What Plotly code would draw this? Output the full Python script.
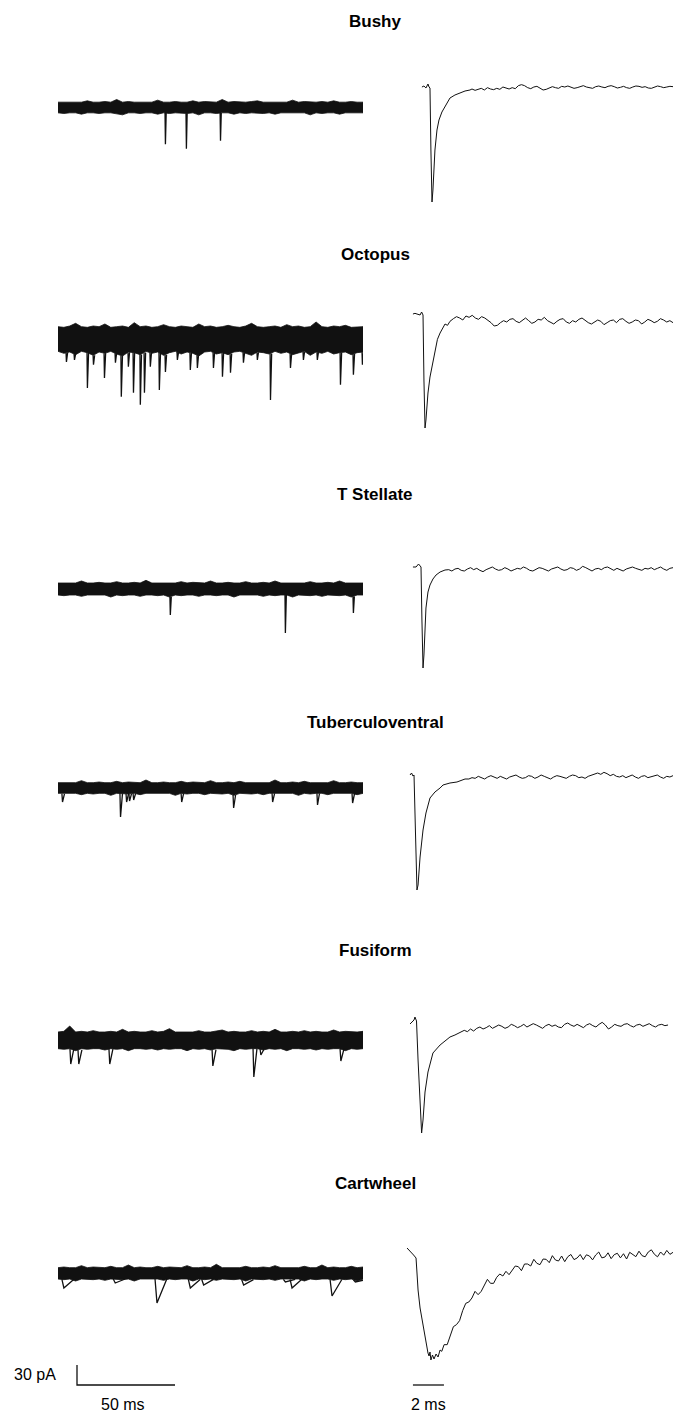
import numpy as np
import plotly.graph_objects as go

# ---------------------------------------------------------------------------
# Data: six cochlear-nucleus cell types.
# Left column: continuous 155.6 ms sweep (noise envelope + spontaneous events).
# Right column: averaged spontaneous EPSC (ms, pA).
# ---------------------------------------------------------------------------
CELLS = ["Bushy", "Octopus", "T Stellate", "Tuberculoventral", "Fusiform", "Cartwheel"]
SWEEP_MS = 155.6
AVG_END_MS = 16.97

# --- noise envelopes of the sweeps (pA, evenly spaced across the sweep) ---
BUSHY_TOP = [8, 8, 9, 8, 8, 10, 8, 8, 9, 8, 12, 8, 9, 8, 8, 9, 8, 11, 8, 8, 9, 8, 8, 10, 8, 9, 8,
             8, 12, 8, 9, 8, 8, 9, 10, 8, 8, 9, 8, 8, 11, 8, 9, 8, 8, 9, 8, 10, 8, 8, 9, 8, 8]
BUSHY_BOT = [-8, -9, -8, -8, -10, -8, -8, -9, -8, -8, -9, -11, -8, -8, -9, -8, -8, -10, -8, -9, -8,
             -8, -9, -8, -11, -8, -8, -9, -8, -8, -10, -8, -9, -8, -8, -9, -8, -10, -8, -8, -9, -8,
             -8, -11, -8, -9, -8, -8, -10, -8, -9, -8, -8]
OCTOPUS_TOP = [17, 16, 18, 22, 17, 16, 18, 17, 21, 16, 17, 18, 16, 23, 17, 18, 16, 17, 20, 17, 16,
               18, 17, 16, 21, 17, 18, 16, 17, 19, 17, 16, 18, 22, 17, 16, 17, 18, 16, 20, 17, 18,
               16, 17, 24, 17, 16, 18, 17, 19, 16, 17, 17]
OCTOPUS_BOT = [-20, -23, -21, -25, -20, -22, -26, -21, -23, -20, -24, -27, -21, -22, -25, -20, -23,
               -21, -26, -22, -20, -24, -21, -23, -27, -21, -20, -24, -22, -25, -21, -20, -23, -26,
               -21, -22, -24, -20, -23, -21, -25, -22, -20, -26, -21, -23, -20, -24, -22, -21, -25,
               -22, -21]
TSTELLATE_TOP = [9, 9, 10, 9, 12, 9, 9, 10, 9, 9, 11, 9, 9, 10, 9, 13, 9, 9, 10, 9, 9, 11, 9, 10, 9,
                 9, 12, 9, 9, 10, 9, 9, 11, 9, 9, 10, 9, 12, 9, 9, 10, 9, 9, 11, 9, 9, 10, 9, 12, 9,
                 9, 10, 9]
TSTELLATE_BOT = [-9, -10, -9, -9, -11, -9, -10, -9, -9, -12, -9, -10, -9, -9, -11, -9, -9, -10, -9,
                 -12, -9, -10, -9, -9, -11, -9, -9, -10, -9, -9, -12, -9, -10, -9, -9, -11, -9, -10,
                 -9, -9, -12, -9, -9, -10, -9, -11, -9, -9, -10, -9, -12, -9, -9]
TV_TOP = [8, 8, 9, 8, 11, 8, 8, 9, 8, 8, 10, 8, 9, 8, 8, 12, 8, 8, 9, 8, 8, 10, 8, 9, 8, 8, 11, 8,
          8, 9, 8, 10, 8, 8, 9, 8, 8, 12, 8, 8, 9, 8, 10, 8, 8, 9, 8, 11, 8, 8, 9, 8, 8]
TV_BOT = [-8, -9, -8, -8, -10, -8, -9, -8, -8, -11, -8, -8, -9, -8, -10, -8, -8, -9, -8, -8, -11,
          -8, -9, -8, -8, -10, -8, -8, -9, -8, -11, -8, -8, -9, -8, -10, -8, -8, -9, -8, -8, -11,
          -8, -9, -8, -8, -10, -8, -9, -8, -8, -10, -8]
FUSIFORM_TOP = [12, 13, 21, 12, 13, 12, 14, 12, 12, 13, 12, 16, 12, 13, 12, 12, 14, 12, 13, 17, 12,
                12, 13, 12, 14, 12, 12, 13, 15, 12, 13, 12, 12, 14, 12, 13, 12, 16, 12, 12, 13, 12,
                14, 12, 13, 12, 12, 15, 12, 13, 12, 12, 13]
FUSIFORM_BOT = [-13, -14, -13, -16, -13, -14, -13, -13, -15, -13, -14, -13, -16, -13, -13, -14, -13,
                -15, -13, -14, -13, -13, -16, -13, -14, -13, -15, -13, -13, -14, -16, -13, -14, -13,
                -13, -15, -13, -14, -13, -16, -13, -13, -14, -13, -15, -13, -14, -13, -13, -16, -13,
                -14, -13]
CARTWHEEL_TOP = [8, 9, 8, 8, 11, 8, 9, 8, 8, 10, 8, 8, 12, 8, 9, 8, 8, 10, 8, 9, 8, 8, 11, 8, 8, 9,
                 8, 13, 8, 8, 9, 8, 10, 8, 8, 9, 8, 11, 8, 8, 9, 8, 10, 8, 8, 12, 8, 9, 8, 8, 10, 8,
                 9]
CARTWHEEL_BOT = [-9, -10, -9, -12, -9, -9, -10, -9, -11, -9, -9, -10, -9, -12, -9, -10, -9, -9, -11,
                 -9, -10, -9, -9, -12, -9, -10, -9, -11, -9, -9, -10, -9, -12, -9, -9, -10, -9, -11,
                 -9, -10, -9, -9, -12, -9, -10, -9, -9, -11, -9, -10, -9, -12, -9]

# --- spontaneous events in the sweeps: onset (ms) and peak (pA) ---
BUSHY_EV_T = [54.6, 65.3, 82.7]
BUSHY_EV_A = [-55, -62, -50]
OCTOPUS_EV_T = [4.1, 8.2, 14.8, 17.9, 23.5, 29.1, 32.1, 35.7, 38.3, 41.8, 43.9, 46.9, 51.5, 54.6,
                60.7, 67.3, 70.9, 79.1, 83.7, 87.8, 94.4, 101.5, 108.2, 118.4, 125.0, 132.1, 143.9,
                150.5, 155.1]
OCTOPUS_EV_A = [-36, -33, -75, -40, -60, -37, -88, -43, -82, -100, -82, -43, -78, -51, -33, -48,
                -45, -45, -58, -52, -37, -33, -93, -45, -33, -33, -70, -55, -40]
TSTELLATE_EV_T = [57.1, 115.8, 150.5]
TSTELLATE_EV_A = [-39, -66, -36]
TV_EV_T = [2.0, 31.6, 34.7, 36.2, 38.3, 62.8, 89.3, 109.2, 132.1, 150.0]
TV_EV_A = [-21, -43.5, -21, -19.5, -18, -21, -30, -21, -25.5, -22.5]
FUSIFORM_EV_T = [6.1, 10.2, 26.0, 78.6, 99.5, 103.1, 143.9]
FUSIFORM_EV_A = [-36, -36, -36, -39, -55.5, -22.5, -31.5]
CARTWHEEL_EV_T = [2.0, 28.2, 49.5, 66.5, 73.3, 93.7, 115.0, 118.4, 138.8, 150.7]
CARTWHEEL_EV_A = [-22.5, -15, -45, -22.5, -18, -18, -13.5, -22.5, -34.5, -13.5]

# event kinetics per cell: (time to peak, decay back to baseline), ms
EV_KINETICS = [(0.2, 0.4), (0.2, 0.6), (0.2, 0.5), (0.3, 1.0), (0.4, 1.6), (1.0, 5.0)]

# --- averaged EPSCs: onset/peak samples (ms, pA) then evenly sampled tail (pA) ---
BUSHY_AVG_T = [0.77, 0.90, 1.03, 1.16, 1.23, 1.29, 1.35, 1.42, 1.48, 1.55, 1.61, 1.74, 1.87, 2.06,
               2.26, 2.58, 2.90, 3.23, 3.55, 3.87]
BUSHY_AVG_I = [0, 1.5, -1.5, 4.5, 0, -1.5, -94.5, -172.5, -154.5, -124.5, -94.5, -64.5, -49.5,
               -37.5, -28.5, -16.5, -12, -9, -6, -4.5]
BUSHY_TAIL_START = 4.0
BUSHY_TAIL = [-3, -5, -4, -2, -4.5, -1, -3, -4, -2, -3.5, 0, -1.5, -3, -1, -2.5, 2, 3.5, 2, -1,
              -2.5, 0, 1, -1.5, -4.5, -3.5, -1.5, 0.5, -1, -2, 1, 0, 1.5, -0.5, -2, -1, 0.5, 2, 0,
              -1.5, -2, 0.5, 1.5, 0, -1, 1, 2, 0.5, -1.5, -0.5, 1, -1, -2, 0, 1.5, 1, -0.5, 0.5,
              -1.5, -2, 0, 1.5, 0.5, -1, 0, 1, 0.5]

OCTOPUS_AVG_T = [0.19, 0.32, 0.45, 0.55, 0.65, 0.75, 0.84, 0.90, 0.97, 1.03, 1.16, 1.29, 1.42,
                 1.61, 1.77, 1.94, 2.10, 2.26, 2.42, 2.58]
OCTOPUS_AVG_I = [0, 1, 0, -1, -1.5, 3, -1.5, -99, -171, -159, -118.5, -94.5, -79.5, -54, -38,
                 -28.5, -22, -15, -17, -11]
OCTOPUS_TAIL_START = 2.8
OCTOPUS_TAIL = [-7, -4, -6, -9, -3, -5, -2, -6, -8, -4, -6, -9, -13, -18, -17, -13, -10, -12, -8,
                -7, -11, -13, -9, -6, -10, -14, -12, -8, -9, -5, -10, -13, -15, -11, -8, -7, -12,
                -14, -10, -12, -8, -6, -10, -13, -15, -12, -9, -11, -16, -13, -10, -9, -13, -8, -7,
                -11, -14, -12, -9, -10, -15, -12, -8, -10, -13, -11, -7, -9, -12, -10, -13]

TSTELLATE_AVG_T = [0.19, 0.39, 0.55, 0.65, 0.71, 0.77, 0.84, 0.90, 0.97, 1.03, 1.16, 1.29, 1.48,
                   1.68, 1.94, 2.26]
TSTELLATE_AVG_I = [0, 0, 4.5, 1.5, 0, -79.5, -151.5, -132, -87, -61.5, -37.5, -27, -18, -12, -7.5,
                   -4.5]
TSTELLATE_TAIL_START = 2.5
TSTELLATE_TAIL = [-4, -6, -3, -2, -5, -6, -3, -1, -4, -2, -5, -7, -4, -2, 0, -3, -5, -4, -1, -3, -6,
                  -4, -2, -3, 0, -2, -5, -6, -3, -1, -2, -4, -6, -3, -2, 0, -3, -5, -4, -1, -2, -5,
                  -3, 1, -1, -4, -6, -3, -2, -4, -1, 0, -3, -5, -2, -4, -6, -3, -1, 0, -2, -4, -5,
                  -2, -3, -1, -4, -2, 0, -3, -5, -2, -1]

TV_AVG_T = [0.0, 0.10, 0.19, 0.26, 0.35, 0.45, 0.52, 0.65, 0.84, 1.03, 1.29, 1.61, 1.94, 2.13,
            2.58, 3.03, 3.55]
TV_AVG_I = [0, 3, -1.5, 0, -82.5, -172.5, -165, -123, -82.5, -57, -34.5, -25.5, -19.5, -15, -12,
            -10.5, -6]
TV_TAIL_START = 3.8
TV_TAIL = [-6, -4, -5, -2, -4, -6, -3, -1, -3, -5, -2, -4, -6, -3, -2, 0, -3, -5, -4, -1, -2, -5,
           -3, 0, -2, -4, -6, -3, -1, -2, -4, -5, -2, 0, -1, -4, -3, -5, -2, 0, 2, 3, 1, 4, 2, -1,
           1, -2, -3, -1, -4, -2, 0, -3, -5, -2, -1, -4, -3, -1, 0, -3, -5, -2, -3, -1]

FUSIFORM_AVG_T = [0.0, 0.13, 0.26, 0.32, 0.42, 0.52, 0.65, 0.75, 0.84, 0.97, 1.16, 1.48, 1.94,
                  2.26, 2.58, 2.90, 3.23]
FUSIFORM_AVG_I = [-1.5, 1.5, 4.5, 9, 3, -55.5, -130.5, -165, -145.5, -103.5, -73.5, -45, -33, -27,
                  -21, -18, -13.5]
FUSIFORM_TAIL_START = 3.5
FUSIFORM_TAIL_END = 16.65
FUSIFORM_TAIL = [-11, -13, -9, -12, -8, -6, -9, -7, -4, -8, -6, -3, -5, -8, -6, -2, -4, -7, -5, -2,
                 -6, -4, -1, -3, -6, -8, -4, -2, -5, -3, -6, -7, -2, 0, -3, -5, -2, -4, -7, -3, -1,
                 -4, -6, -2, 1, -3, -9, -6, -2, -4, -5, -2, -1, -4, -6, -3, -2, -5, -3, -1, -4, -6,
                 -3, -2, -4, -3]

CARTWHEEL_AVG_T = [-0.19, -0.06, 0.10, 0.23, 0.39, 0.45, 0.52, 0.65, 0.81, 0.90, 1.01, 1.10, 1.16,
                   1.23, 1.29, 1.35, 1.45, 1.55, 1.68, 1.81, 1.94, 2.05]
CARTWHEEL_AVG_I = [3, 0, -3, -7.5, -12, -33, -60, -87, -109.5, -124.5, -135, -148.5, -154.5, -159,
                   -153, -165, -157.5, -163.5, -156, -160.5, -150, -152]
CARTWHEEL_TAIL_START = 2.2
CARTWHEEL_TAIL = [-142, -142, -129, -115, -112, -106, -91, -80, -78, -72, -62, -67, -62, -52, -44,
                  -50, -50, -41, -36, -39, -32, -37, -31, -24, -25, -31, -21, -21, -24, -14, -20,
                  -22, -13.5, -14, -19, -8.5, -15, -16.5, -9, -17.5, -10, -6.7, -14.4, -12, -6.7,
                  -14.5, -7.2, -9, -14.8, -7.5, -3, -11.8, -10.5, -4.2, -13, -7, -4.9, -11.8, -5.6,
                  -13.5, -3.5, -6.2, -10, -1.8, -8.5, -10.2, -3, 0.3, -6.5, -10.2, -3, -7.8, -0.6,
                  -6.5, -3.5]

# scale bars
SCALE_PA = 30
SCALE_SWEEP_MS = 50
SCALE_AVG_MS = 2

SWEEPS = [
    (BUSHY_TOP, BUSHY_BOT, BUSHY_EV_T, BUSHY_EV_A),
    (OCTOPUS_TOP, OCTOPUS_BOT, OCTOPUS_EV_T, OCTOPUS_EV_A),
    (TSTELLATE_TOP, TSTELLATE_BOT, TSTELLATE_EV_T, TSTELLATE_EV_A),
    (TV_TOP, TV_BOT, TV_EV_T, TV_EV_A),
    (FUSIFORM_TOP, FUSIFORM_BOT, FUSIFORM_EV_T, FUSIFORM_EV_A),
    (CARTWHEEL_TOP, CARTWHEEL_BOT, CARTWHEEL_EV_T, CARTWHEEL_EV_A),
]
AVERAGES = [
    (BUSHY_AVG_T, BUSHY_AVG_I, BUSHY_TAIL_START, AVG_END_MS, BUSHY_TAIL),
    (OCTOPUS_AVG_T, OCTOPUS_AVG_I, OCTOPUS_TAIL_START, AVG_END_MS, OCTOPUS_TAIL),
    (TSTELLATE_AVG_T, TSTELLATE_AVG_I, TSTELLATE_TAIL_START, AVG_END_MS, TSTELLATE_TAIL),
    (TV_AVG_T, TV_AVG_I, TV_TAIL_START, AVG_END_MS, TV_TAIL),
    (FUSIFORM_AVG_T, FUSIFORM_AVG_I, FUSIFORM_TAIL_START, FUSIFORM_TAIL_END, FUSIFORM_TAIL),
    (CARTWHEEL_AVG_T, CARTWHEEL_AVG_I, CARTWHEEL_TAIL_START, AVG_END_MS, CARTWHEEL_TAIL),
]

# ---------------------------------------------------------------------------
# Page geometry (pixels) and scales
# ---------------------------------------------------------------------------
W, H = 684, 1413
PA_PER_PX = 1.5                      # 30 pA bar = 20 px
LEFT_PX = (58, 363)                  # sweep column
RIGHT_PX = (405, 673)                # averaged column
RIGHT_RANGE = (-0.3226, AVG_END_MS)  # 15.5 px per ms
LEFT_BASE_PX = [107.5, 338, 589, 788, 1040, 1273]
RIGHT_BASE_PX = [87, 314, 567, 775, 1023, 1250]
TITLE_PX = [22, 254, 494, 722, 950, 1183]
TITLE_X_PX = 375
INK = "#111111"
FONT = "Liberation Sans, Arial, Helvetica, sans-serif"

fig = go.Figure()
axis_count = [0]


def new_axes(x_px, x_range, base_px):
    axis_count[0] += 1
    n = axis_count[0]
    suffix = "" if n == 1 else str(n)
    top_px = max(0.0, base_px - 70)
    bot_px = min(float(H), base_px + 150)
    fig.layout["xaxis" + suffix] = dict(
        domain=[x_px[0] / W, x_px[1] / W], range=list(x_range), visible=False,
        showgrid=False, zeroline=False, fixedrange=True, anchor="y" + suffix)
    fig.layout["yaxis" + suffix] = dict(
        domain=[1 - bot_px / H, 1 - top_px / H],
        range=[-(bot_px - base_px) * PA_PER_PX, (base_px - top_px) * PA_PER_PX],
        visible=False, showgrid=False, zeroline=False, fixedrange=True, anchor="x" + suffix)
    return "x" + suffix, "y" + suffix


left_axes, right_axes = [], []
for row in range(6):
    # continuous sweep
    xa, ya = new_axes(LEFT_PX, (0, SWEEP_MS), LEFT_BASE_PX[row])
    left_axes.append((xa, ya))
    top, bot, ev_t, ev_a = SWEEPS[row]
    t_top = np.linspace(0, SWEEP_MS, len(top))
    t_bot = np.linspace(0, SWEEP_MS, len(bot))
    fig.add_trace(go.Scatter(
        x=np.concatenate([t_top, t_bot[::-1]]), y=np.concatenate([top, bot[::-1]]),
        fill="toself", fillcolor=INK, mode="lines", line=dict(color=INK, width=0.8),
        xaxis=xa, yaxis=ya, hoverinfo="skip", showlegend=False))
    rise, decay = EV_KINETICS[row]
    ex, ey = [], []
    for t0, amp in zip(ev_t, ev_a):
        base = float(np.interp(t0, t_bot, bot))
        ex += [t0, t0 + rise, t0 + rise + decay, None]
        ey += [base, amp, base, None]
    fig.add_trace(go.Scatter(
        x=ex, y=ey, mode="lines", line=dict(color=INK, width=1.3),
        xaxis=xa, yaxis=ya, hoverinfo="skip", showlegend=False))

    # averaged EPSC
    xa2, ya2 = new_axes(RIGHT_PX, RIGHT_RANGE, RIGHT_BASE_PX[row])
    right_axes.append((xa2, ya2))
    h_t, h_i, tail_t0, tail_t1, tail = AVERAGES[row]
    t_all = np.concatenate([h_t, np.linspace(tail_t0, tail_t1, len(tail))])
    i_all = np.concatenate([h_i, tail])
    fig.add_trace(go.Scatter(
        x=t_all, y=i_all, mode="lines", line=dict(color=INK, width=1.0),
        xaxis=xa2, yaxis=ya2, hoverinfo="skip", showlegend=False))

    fig.add_annotation(
        x=TITLE_X_PX / W, y=1 - TITLE_PX[row] / H, xref="paper", yref="paper",
        text="<b>%s</b>" % CELLS[row], showarrow=False, xanchor="center", yanchor="middle",
        font=dict(family=FONT, size=17, color="#000000"))

# scale bars in the bottom row's own units
bar_y_px = 1385
xa, ya = left_axes[-1]
lvl = -(bar_y_px - LEFT_BASE_PX[-1]) * PA_PER_PX
t0 = (77 - LEFT_PX[0]) * SWEEP_MS / (LEFT_PX[1] - LEFT_PX[0])
fig.add_trace(go.Scatter(
    x=[t0, t0, t0 + SCALE_SWEEP_MS], y=[lvl + SCALE_PA, lvl, lvl], mode="lines",
    line=dict(color=INK, width=1.3), xaxis=xa, yaxis=ya, hoverinfo="skip", showlegend=False))
xa, ya = right_axes[-1]
lvl = -(bar_y_px - RIGHT_BASE_PX[-1]) * PA_PER_PX
t0 = 0.19
fig.add_trace(go.Scatter(
    x=[t0, t0 + SCALE_AVG_MS], y=[lvl, lvl], mode="lines",
    line=dict(color=INK, width=1.3), xaxis=xa, yaxis=ya, hoverinfo="skip", showlegend=False))

labels = [("%d pA" % SCALE_PA, 12, 1374, "left"),
          ("%d ms" % SCALE_SWEEP_MS, 123, 1404, "center"),
          ("%d ms" % SCALE_AVG_MS, 429, 1404, "center")]
for txt, xp, yp, anc in labels:
    fig.add_annotation(
        x=xp / W, y=1 - yp / H, xref="paper", yref="paper", text=txt, showarrow=False,
        xanchor=anc, yanchor="middle", font=dict(family=FONT, size=16, color="#000000"))

fig.update_layout(
    width=W, height=H, autosize=False, margin=dict(l=0, r=0, t=0, b=0, pad=0),
    paper_bgcolor="white", plot_bgcolor="rgba(0,0,0,0)", showlegend=False)

fig.write_html("out.html")
